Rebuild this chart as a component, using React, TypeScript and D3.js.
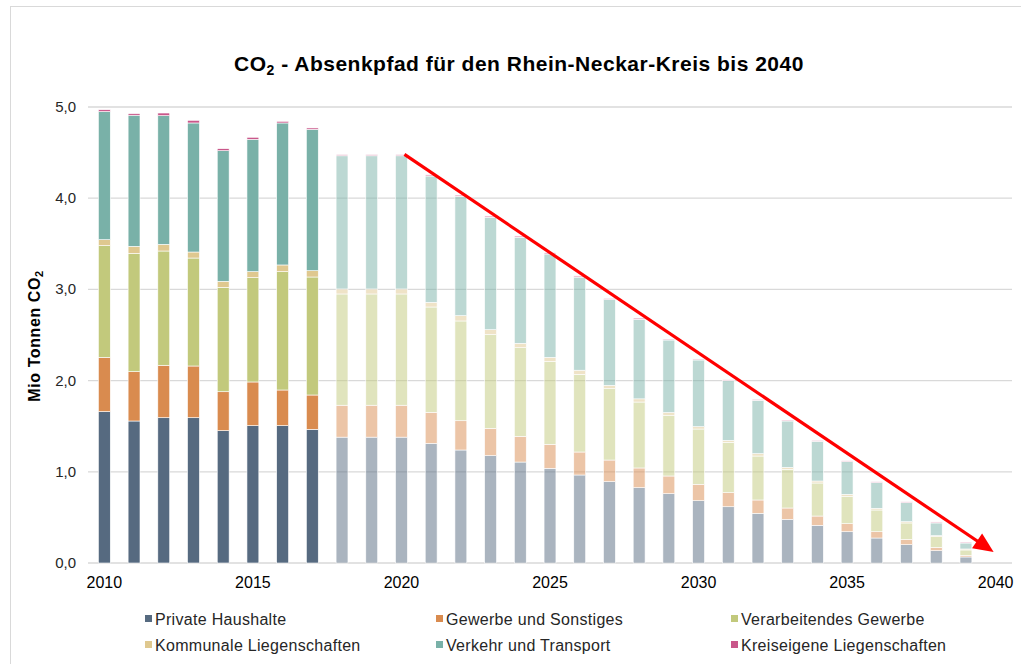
import React, {useEffect, useRef} from 'react';
import * as d3 from 'd3';

// years with bars, 2040 is only an axis position
const years = [2010, 2011, 2012, 2013, 2014, 2015, 2016, 2017, 2018, 2019,
  2020, 2021, 2022, 2023, 2024, 2025, 2026, 2027, 2028, 2029,
  2030, 2031, 2032, 2033, 2034, 2035, 2036, 2037, 2038, 2039];
const axisYears = [...years, 2040];
const tickYears = [2010, 2015, 2020, 2025, 2030, 2035, 2040];
const yTicks = [0, 1, 2, 3, 4, 5];
const firstProjectedYear = 2018;

const seriesNames = ['Private Haushalte', 'Gewerbe und Sonstiges', 'Verarbeitendes Gewerbe',
  'Kommunale Liegenschaften', 'Verkehr und Transport', 'Kreiseigene Liegenschaften'];
const seriesColors = ['#566a80', '#d98b4f', '#c2c97c', '#dfc88f', '#79b1a8', '#c9578a'];

const privateHaushalte = [1.66, 1.557, 1.593, 1.593, 1.451, 1.506, 1.506, 1.466, 1.38, 1.38,
  1.38, 1.312, 1.239, 1.177, 1.107, 1.038, 0.965, 0.892, 0.826, 0.76,
  0.683, 0.617, 0.545, 0.479, 0.413, 0.343, 0.274, 0.201, 0.135, 0.066];
const gewerbe = [0.595, 0.541, 0.575, 0.567, 0.427, 0.479, 0.391, 0.376, 0.35, 0.35,
  0.35, 0.34, 0.321, 0.30, 0.282, 0.263, 0.252, 0.237, 0.216, 0.194,
  0.18, 0.154, 0.146, 0.124, 0.102, 0.088, 0.069, 0.059, 0.037, 0.018];
const verarbeitendes = [1.225, 1.298, 1.253, 1.184, 1.145, 1.144, 1.298, 1.294, 1.22, 1.22,
  1.22, 1.155, 1.094, 1.031, 0.972, 0.91, 0.852, 0.783, 0.723, 0.666,
  0.606, 0.552, 0.482, 0.424, 0.362, 0.30, 0.238, 0.179, 0.117, 0.059];
const kommunal = [0.065, 0.076, 0.073, 0.066, 0.066, 0.066, 0.073, 0.069, 0.055, 0.055,
  0.055, 0.051, 0.058, 0.05, 0.048, 0.044, 0.045, 0.036, 0.035, 0.03,
  0.026, 0.022, 0.026, 0.022, 0.022, 0.022, 0.019, 0.014, 0.011, 0.011];
const verkehr = [1.405, 1.438, 1.411, 1.415, 1.432, 1.451, 1.557, 1.55, 1.46, 1.46,
  1.46, 1.385, 1.308, 1.232, 1.162, 1.133, 1.02, 0.94, 0.872, 0.795,
  0.731, 0.654, 0.585, 0.508, 0.435, 0.358, 0.281, 0.208, 0.139, 0.065];
const kreiseigene = [0.02, 0.017, 0.029, 0.029, 0.022, 0.022, 0.018, 0.015, 0.015, 0.015,
  0.015, 0.015, 0.015, 0.015, 0.015, 0.015, 0.014, 0.014, 0.014, 0.011,
  0.011, 0.011, 0.011, 0.011, 0.011, 0.011, 0.011, 0.011, 0.011, 0.011];

// red arrow of the reduction path
const arrowFrom = {year: 2020, value: 4.48};
const arrowTo = {year: 2040, value: 0.12};

const seriesValues = [privateHaushalte, gewerbe, verarbeitendes, kommunal, verkehr, kreiseigene];

const width = 1021, height = 664;
const font = 'Liberation Sans, Arial, sans-serif';

const App: React.FC = () => {
  const ref = useRef<SVGSVGElement>(null);

  useEffect(() => {
    const svg = d3.select(ref.current!);
    svg.selectAll('*').remove();

    const margin = {top: 107, left: 88, right: 9, bottom: 101};

    const rows = years.map((y, i) => {
      const r: any = {year: y};
      seriesNames.forEach((n, k) => r[n] = seriesValues[k][i]);
      return r;
    });

    const x = d3.scaleBand<number>()
    .domain(axisYears)
    .range([margin.left, width - margin.right])
    .paddingInner(0.6)
    .paddingOuter(0.35);

    const yScale = d3.scaleLinear()
    .domain([0, 5])
    .range([height - margin.bottom, margin.top]);

    // outer frame
    svg.append('line')
    .attr('x1', 10).attr('x2', width).attr('y1', 6.5).attr('y2', 6.5)
    .attr('stroke', '#d9d9d9');
    svg.append('line')
    .attr('x1', 10.5).attr('x2', 10.5).attr('y1', 6).attr('y2', height)
    .attr('stroke', '#d9d9d9');

    // title
    const title = svg.append('text')
    .attr('x', 519).attr('y', 71)
    .attr('text-anchor', 'middle')
    .attr('font-family', font)
    .attr('font-weight', 'bold')
    .attr('font-size', 21)
    .attr('letter-spacing', 0.5)
    .attr('fill', '#000');
    title.append('tspan').text('CO');
    title.append('tspan').attr('font-size', 14).attr('dy', 4).text('2');
    title.append('tspan').attr('dy', -4).text(' - Absenkpfad  für den Rhein-Neckar-Kreis  bis 2040');

    // grid
    svg.append('g')
    .selectAll('line')
    .data(yTicks)
    .enter().append('line')
    .attr('x1', margin.left)
    .attr('x2', width - margin.right)
    .attr('y1', d => yScale(d))
    .attr('y2', d => yScale(d))
    .attr('stroke', '#d9d9d9')
    .attr('stroke-width', 1.3);

    svg.append('g')
    .selectAll('text')
    .data(yTicks)
    .enter().append('text')
    .attr('x', 76)
    .attr('y', d => yScale(d) + 5)
    .attr('text-anchor', 'end')
    .attr('font-family', font)
    .attr('font-size', 15)
    .attr('fill', '#262626')
    .text(d => d3.format('.1f')(d).replace('.', ','));

    svg.append('g')
    .selectAll('text')
    .data(tickYears)
    .enter().append('text')
    .attr('x', d => x(d)! + x.bandwidth() / 2)
    .attr('y', height - margin.bottom + 25)
    .attr('text-anchor', 'middle')
    .attr('font-family', font)
    .attr('font-size', 16)
    .attr('fill', '#000')
    .text(d => d);

    // y axis title
    const yTitle = svg.append('text')
    .attr('transform', 'translate(40,336) rotate(-90)')
    .attr('text-anchor', 'middle')
    .attr('font-family', font)
    .attr('font-weight', 'bold')
    .attr('font-size', 16)
    .attr('letter-spacing', 0.6)
    .attr('fill', '#000');
    yTitle.append('tspan').text('Mio Tonnen CO');
    yTitle.append('tspan').attr('font-size', 11).attr('dy', 3).text('2');

    // stacked bars
    const stacked = d3.stack<any>().keys(seriesNames)(rows);
    svg.append('g')
    .selectAll('g')
    .data(stacked)
    .enter().append('g')
    .attr('fill', (_, i) => seriesColors[i])
    .selectAll('rect')
    .data(d => d)
    .enter().append('rect')
    .attr('x', d => x(d.data.year)!)
    .attr('width', x.bandwidth())
    .attr('y', d => yScale(d[1]))
    .attr('height', d => yScale(d[0]) - yScale(d[1]))
    .attr('fill-opacity', d => d.data.year >= firstProjectedYear ? 0.5 : 1)
    .attr('stroke', '#fff')
    .attr('stroke-width', 0.6);

    // arrow
    const x0 = x(arrowFrom.year)! + x.bandwidth() / 2 + 3, y0 = yScale(arrowFrom.value);
    const x1 = x(arrowTo.year)! + x.bandwidth() / 2 - 2, y1 = yScale(arrowTo.value);
    const ang = Math.atan2(y1 - y0, x1 - x0);
    const headLen = 20, headW = 9;
    const bx = x1 - headLen * Math.cos(ang), by = y1 - headLen * Math.sin(ang);
    svg.append('line')
    .attr('x1', x0).attr('y1', y0)
    .attr('x2', bx + 2 * Math.cos(ang)).attr('y2', by + 2 * Math.sin(ang))
    .attr('stroke', '#ff0000')
    .attr('stroke-width', 3.2);
    svg.append('path')
    .attr('d', d3.line()([
      [x1, y1],
      [bx - headW * Math.sin(ang), by + headW * Math.cos(ang)],
      [bx + headW * Math.sin(ang), by - headW * Math.cos(ang)]
    ]) + 'Z')
    .attr('fill', '#ff0000');

    // legend
    const legendCols = [145, 436, 731];
    const legendRows = [619, 645];
    const legend = svg.append('g')
    .selectAll('g')
    .data(seriesNames)
    .enter().append('g')
    .attr('transform', (_, i) => 'translate(' + legendCols[i % 3] + ',' + legendRows[Math.floor(i / 3)] + ')');
    legend.append('rect')
    .attr('x', 0).attr('y', -4).attr('width', 7).attr('height', 7)
    .attr('fill', (_, i) => seriesColors[i]);
    legend.append('text')
    .attr('x', 10).attr('y', 5.5)
    .attr('font-family', font)
    .attr('font-size', 16)
    .attr('letter-spacing', 0.3)
    .attr('fill', '#262626')
    .text(d => d);
  }, []);

  return (
    <svg ref={ref} width={width} height={height}
         style={{position: 'absolute', left: 0, top: 0, background: '#fff'}}/>
  );
}

export default App;
